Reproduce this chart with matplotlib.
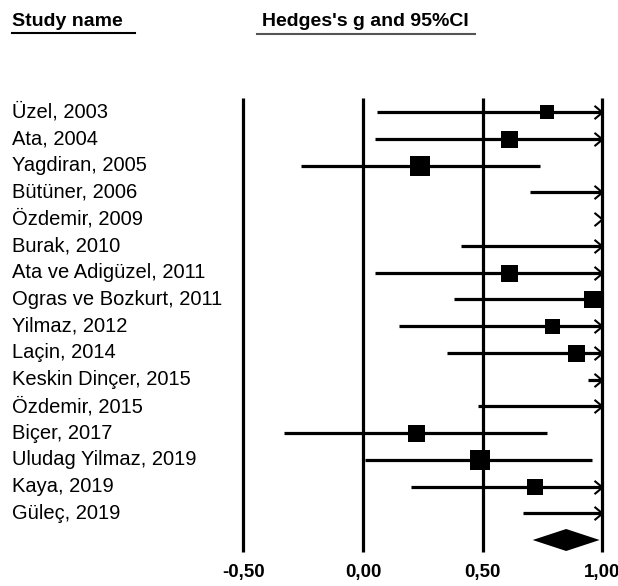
import numpy as np
import matplotlib.pyplot as plt
from matplotlib.path import Path
from matplotlib.lines import Line2D
from matplotlib.transforms import blended_transform_factory

plt.rcParams['font.family'] = ['Liberation Sans', 'DejaVu Sans']

studies = ["Üzel, 2003", "Ata, 2004", "Yagdiran, 2005", "Bütüner, 2006",
           "Özdemir, 2009", "Burak, 2010", "Ata ve Adigüzel, 2011",
           "Ogras ve Bozkurt, 2011", "Yilmaz, 2012", "Laçin, 2014",
           "Keskin Dinçer, 2015", "Özdemir, 2015", "Biçer, 2017",
           "Uludag Yilmaz, 2019", "Kaya, 2019", "Güleç, 2019"]
g = [0.77, 0.61, 0.24, 1.35, 2.50, 1.15, 0.61, 0.96, 0.79, 0.89,
     1.90, 1.25, 0.22, 0.49, 0.72, 1.40]
lower = [0.06, 0.05, -0.26, 0.70, 1.40, 0.41, 0.05, 0.38, 0.15, 0.35,
         0.94, 0.48, -0.33, 0.01, 0.20, 0.67]
upper = [1.48, 1.17, 0.74, 2.00, 3.60, 1.90, 1.17, 1.54, 1.43, 1.43,
         2.86, 2.02, 0.77, 0.96, 1.24, 2.13]
weight = [14, 17, 20, 15, 15, 15, 17, 17, 15, 17, 14, 15, 17, 20, 16, 15]

pooled_g = 0.85
pooled_lo = 0.71
pooled_hi = 0.99

ticks = [-0.5, 0.0, 0.5, 1.0]
tick_labels = ["-0,50", "0,00", "0,50", "1,00"]

W, H = 618, 586
fig = plt.figure(figsize=(W / 100, H / 100), dpi=100)

# plot area in pixels: value v -> 363 + 239*v
x0, x1 = -0.55, 1.05
px_l, px_r = 363 + 239 * x0, 363 + 239 * x1
py_t, py_b = 90, 565
ax = fig.add_axes([px_l / W, 1 - py_b / H, (px_r - px_l) / W, (py_b - py_t) / H])
ax.set_xlim(x0, x1)
row_h = 26.75
ax.set_ylim((py_b - 112) / row_h, (py_t - 112) / row_h)
ax.axis('off')

ax.vlines(ticks, (98 - 112) / row_h, (552 - 112) / row_h, color='black', lw=2.3)

chevron = Path([(-1.2, 1), (0, 0), (-1.2, -1)], [Path.MOVETO, Path.LINETO, Path.LINETO])
xmax = 1.0
for i in range(len(studies)):
    lo, hi, est = lower[i], upper[i], g[i]
    if lo < xmax:
        ax.plot([lo, min(hi, xmax)], [i, i], color='black', lw=2.3,
                solid_capstyle='butt', clip_on=False)
    if hi > xmax:
        ax.plot([xmax], [i], marker=chevron, ms=11.5, mfc='none', mec='black',
                mew=1.5, clip_on=False)
    if est <= xmax:
        ax.plot([est], [i], marker='s', ms=weight[i] * 0.72, color='black',
                mew=0, clip_on=False)

yd = len(studies)
hd = 11 / row_h
ax.fill([pooled_lo, pooled_g, pooled_hi, pooled_g], [yd, yd - hd, yd, yd + hd],
        color='black', lw=0)

for t, lab in zip(ticks, tick_labels):
    ax.text(t, (573 - 112) / row_h, lab, ha='center', va='center',
            fontsize=13.5, fontweight='bold', clip_on=False)

trans = blended_transform_factory(fig.transFigure, ax.transData)
for i, name in enumerate(studies):
    ax.text(12 / W, i, name, transform=trans, ha='left', va='center', fontsize=14.5)

fig.text(12 / W, 1 - 22 / H, "Study name", ha='left', va='center',
         fontsize=14, fontweight='bold')
fig.text(262 / W, 1 - 22 / H, "Hedges's g and 95%CI", ha='left', va='center',
         fontsize=14, fontweight='bold')
fig.add_artist(Line2D([12 / W, 135 / W], [1 - 33 / H, 1 - 33 / H], color='black', lw=1.5))
fig.add_artist(Line2D([257 / W, 475 / W], [1 - 34 / H, 1 - 34 / H], color='#555555', lw=1.5))

fig.savefig("out.png", dpi=100)
